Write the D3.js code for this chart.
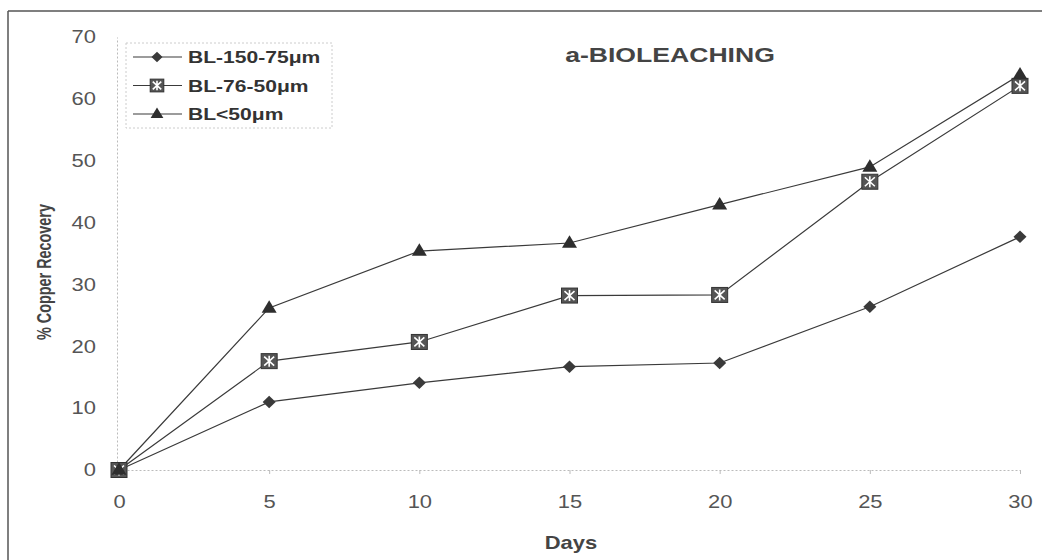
<!DOCTYPE html>
<html><head><meta charset="utf-8">
<script src="https://cdn.jsdelivr.net/npm/d3@7"></script>
<style>body{margin:0;background:#fff}svg{display:block}</style>
</head><body><svg id="c" width="1042" height="560"></svg>
<script>
const days = [0, 5, 10, 15, 20, 25, 30];
const seriesNames = ["BL-150-75μm", "BL-76-50μm", "BL<50μm"];
const bl150_75 = [0, 11.0, 14.1, 16.7, 17.3, 26.4, 37.7];
const bl76_50  = [0, 17.6, 20.7, 28.2, 28.3, 46.6, 62.1];
const blLt50   = [0, 26.2, 35.4, 36.7, 42.9, 49.0, 63.9];
const xTicks = [0, 5, 10, 15, 20, 25, 30];
const yTicks = [0, 10, 20, 30, 40, 50, 60, 70];
const title = "a-BIOLEACHING";
const xTitle = "Days";
const yTitle = "% Copper Recovery";

const FONT = "Liberation Sans, Arial, sans-serif";
const SX = 1.22; // horizontal stretch of the scanned original
const svg = d3.select("#c");
const x = d3.scaleLinear().domain([0, 30]).range([119, 1020]);
const y = d3.scaleLinear().domain([0, 70]).range([470, 37]);
const ink = "#3a3a3a";

// outer frame
svg.append("line").attr("x1", 8).attr("x2", 1042).attr("y1", 11).attr("y2", 11).attr("stroke", "#555").attr("stroke-width", 1.5);
svg.append("line").attr("x1", 8).attr("x2", 8).attr("y1", 11).attr("y2", 560).attr("stroke", "#555").attr("stroke-width", 1.5);

// axes
const gx = svg.append("g").attr("transform", `translate(0,${y(0)})`)
  .call(d3.axisBottom(x).tickValues(xTicks).tickSize(4).tickSizeOuter(0).tickPadding(21));
const yPad = 21;
const gy = svg.append("g").attr("transform", `translate(${x(0)-2},0)`)
  .call(d3.axisLeft(y).tickValues(yTicks).tickSize(0).tickPadding(yPad));
[gx, gy].forEach(g => {
  g.select(".domain").attr("stroke", "#bbb").attr("stroke-dasharray", "2,2").attr("stroke-width", 1);
  g.selectAll(".tick line").attr("stroke", "#bbb");
  g.selectAll("text").attr("font-family", FONT).attr("font-size", 18).attr("fill", "#555")
    .attr("transform", `scale(${SX},1)`);
});
gy.selectAll("text").attr("x", -yPad / SX);

// lines + markers
const data = [bl150_75, bl76_50, blLt50];
const line = d3.line().x((d, i) => x(days[i])).y(d => y(d));
data.forEach(vals => {
  svg.append("path").datum(vals).attr("d", line).attr("fill", "none").attr("stroke", ink).attr("stroke-width", 1.2);
});

function marker(g, type, cx, cy, k) {
  k = k || 1;
  if (type === 0) {
    const w = 6.5 * k, h = 6.3 * k;
    g.append("path").attr("d", `M${cx},${cy-h}L${cx+w},${cy}L${cx},${cy+h}L${cx-w},${cy}Z`).attr("fill", "#3a3a3a");
  } else if (type === 1) {
    const sw = 8 * k, sh = 7.5 * k;
    g.append("rect").attr("x", cx - sw).attr("y", cy - sh).attr("width", 2*sw).attr("height", 2*sh).attr("fill", "#555").attr("stroke", "#333").attr("stroke-width", 1);
    const a = 5 * k, b = 4.5 * k;
    g.append("path").attr("d", `M${cx-a},${cy-b}L${cx+a},${cy+b}M${cx+a},${cy-b}L${cx-a},${cy+b}M${cx},${cy-b-1}L${cx},${cy+b+1}`)
      .attr("stroke", "#fff").attr("stroke-width", 1.6);
  } else {
    const w = 7.5 * k, h = 12.5 * k;
    g.append("path").attr("d", `M${cx},${cy-h*0.62}L${cx+w},${cy+h*0.38}L${cx-w},${cy+h*0.38}Z`).attr("fill", "#2e2e2e");
  }
}
data.forEach((vals, k) => {
  const g = svg.append("g");
  vals.forEach((v, i) => marker(g, k, x(days[i]), y(v)));
});

// legend
const lg = svg.append("g");
lg.append("rect").attr("x", 126).attr("y", 43).attr("width", 206).attr("height", 85)
  .attr("fill", "#fff").attr("stroke", "#ccc").attr("stroke-dasharray", "2,2");
seriesNames.forEach((n, k) => {
  const yy = 57 + k * 28.5;
  lg.append("line").attr("x1", 133).attr("x2", 182).attr("y1", yy).attr("y2", yy).attr("stroke", ink).attr("stroke-width", 1.2);
  marker(lg, k, 157, yy, 0.85);
  lg.append("text").attr("transform", `translate(188,${yy + 6}) scale(1.24,1)`).text(n)
    .attr("font-family", FONT).attr("font-weight", "bold").attr("font-size", 17).attr("fill", "#333");
});

// titles
svg.append("text").attr("transform", "translate(670,62) scale(1.33,1)").attr("text-anchor", "middle").text(title)
  .attr("font-family", FONT).attr("font-weight", "bold").attr("font-size", 20).attr("fill", "#444");
svg.append("text").attr("transform", `translate(571,549) scale(${SX},1)`).attr("text-anchor", "middle").text(xTitle)
  .attr("font-family", FONT).attr("font-weight", "bold").attr("font-size", 18).attr("fill", "#444");
svg.append("text").attr("transform", "translate(51,272) rotate(-90) scale(0.9,1.25)").attr("text-anchor", "middle").text(yTitle)
  .attr("font-family", FONT).attr("font-weight", "bold").attr("font-size", 16).attr("fill", "#444");
</script></body></html>
